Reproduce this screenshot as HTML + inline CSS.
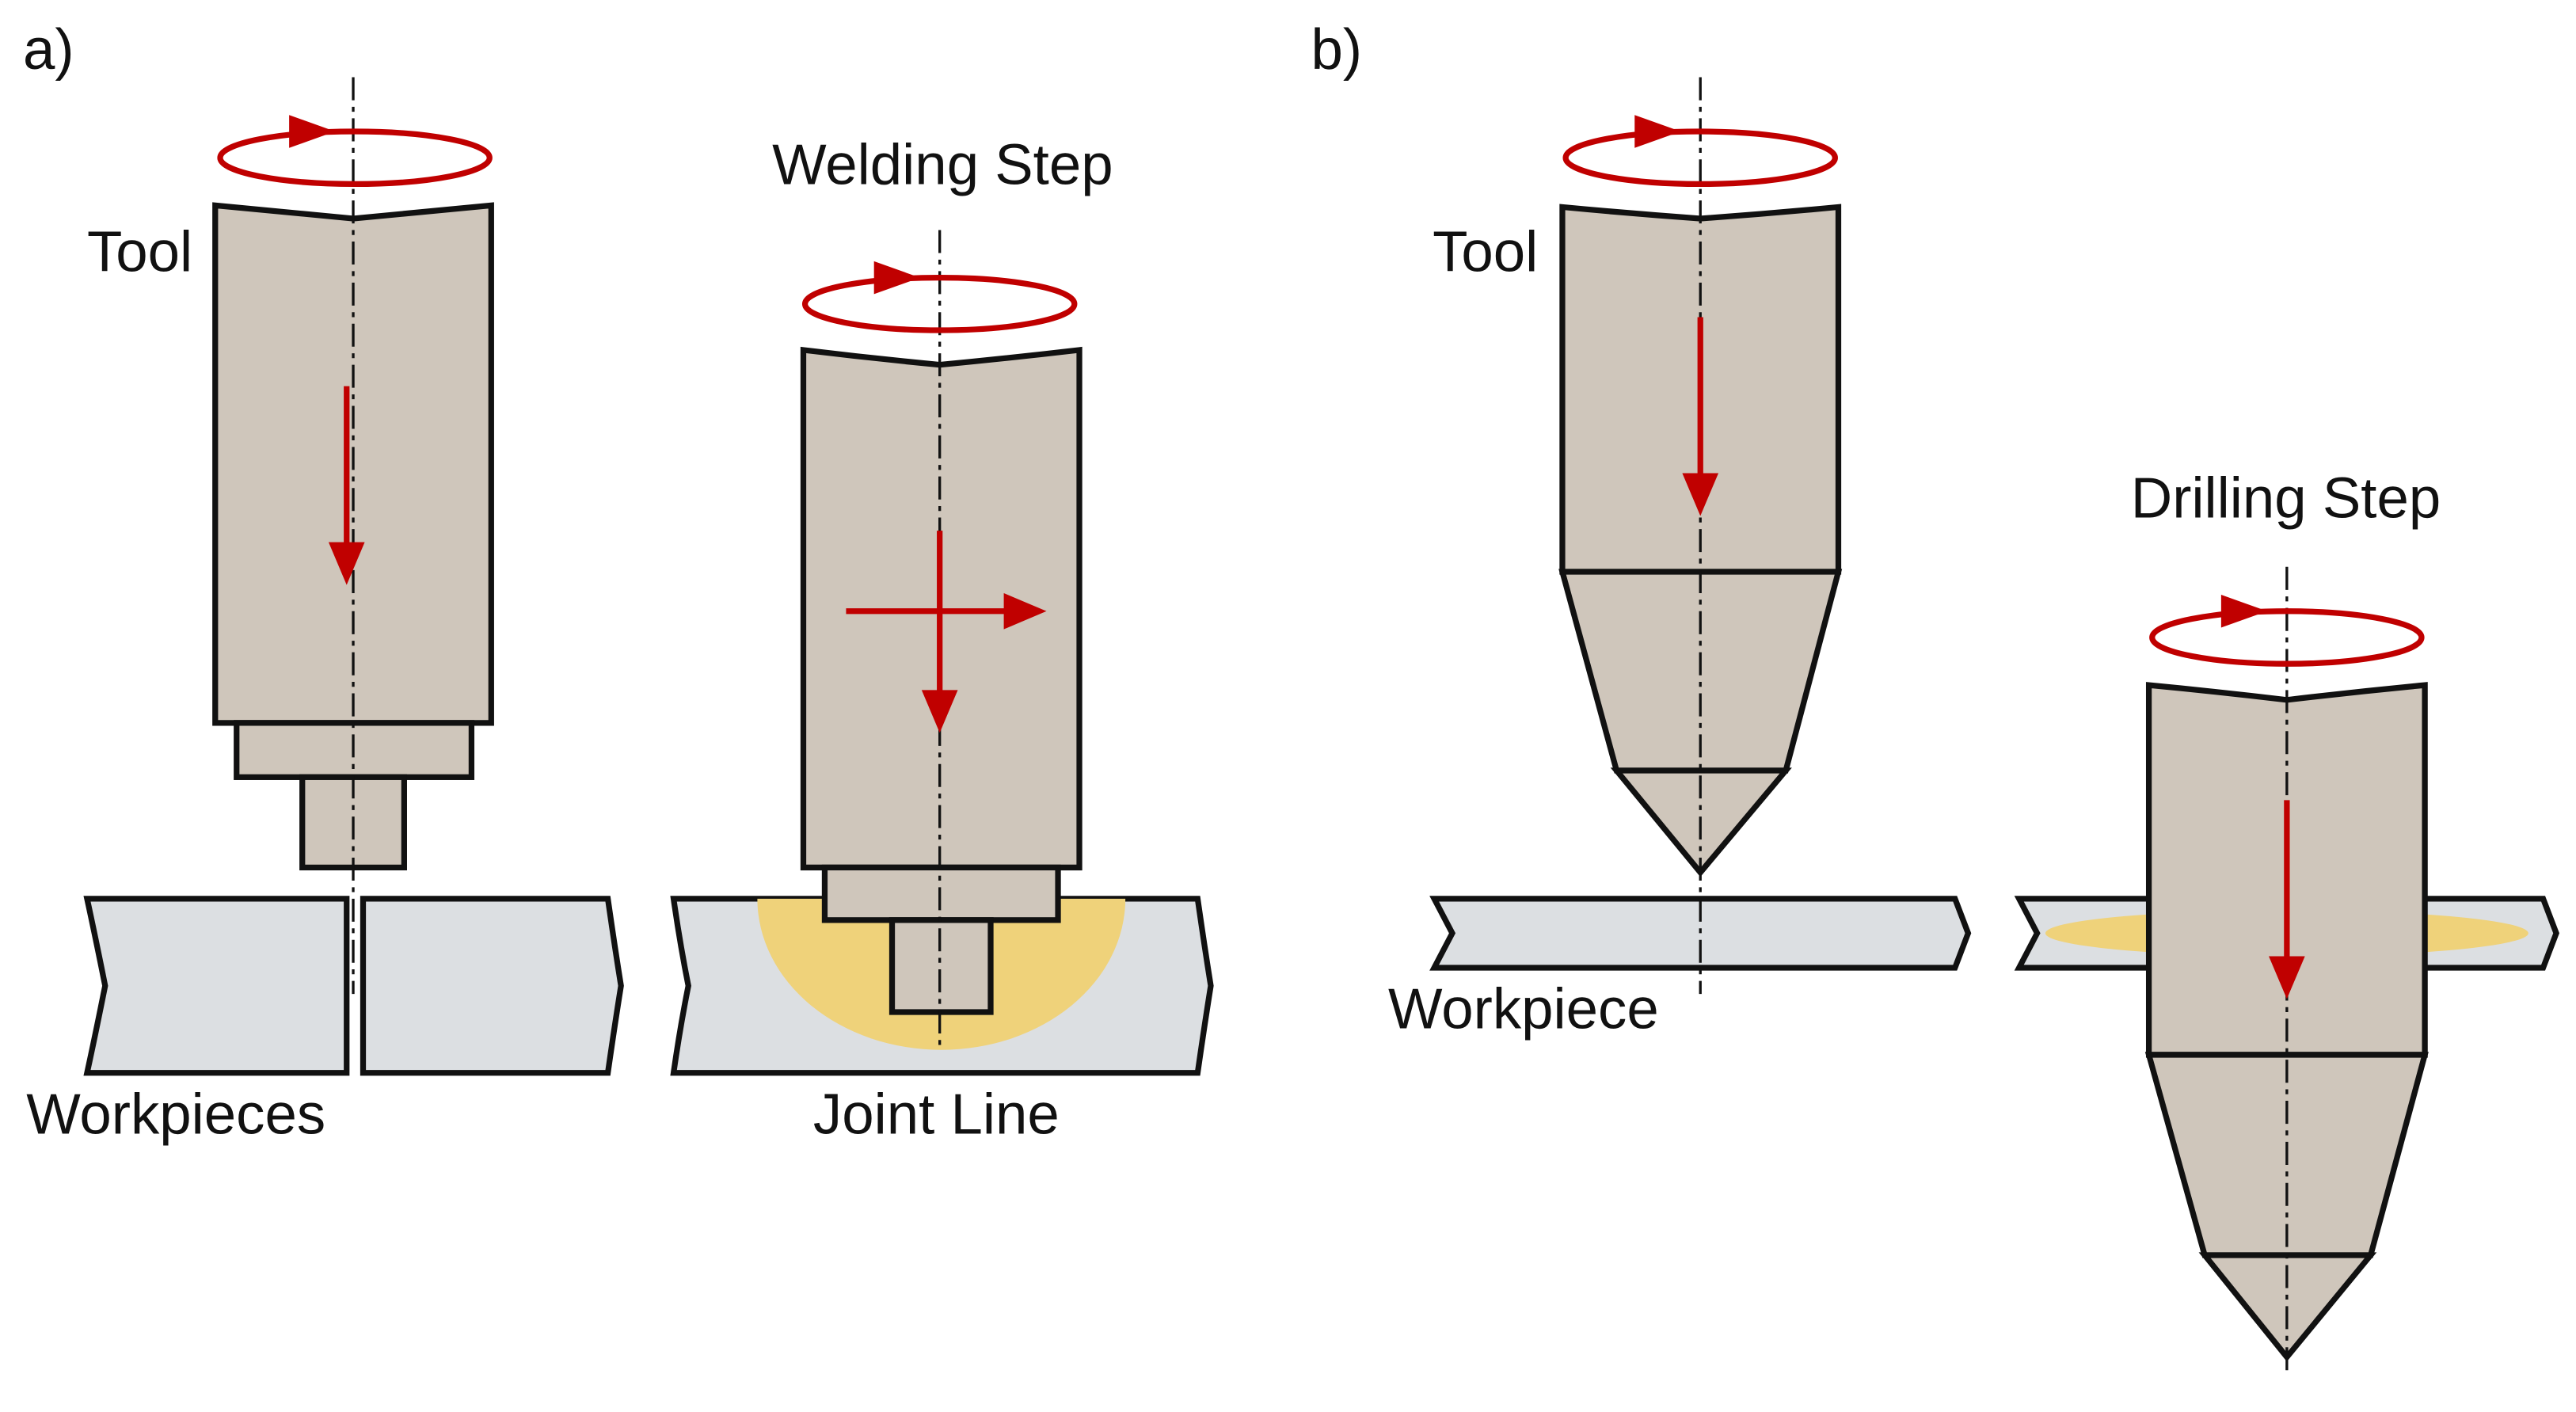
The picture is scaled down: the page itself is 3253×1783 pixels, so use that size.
<!DOCTYPE html>
<html><head><meta charset="utf-8"><style>html,body{margin:0;padding:0;background:#fff}svg{display:block}</style></head>
<body>
<svg width="3253" height="1783" viewBox="0 0 1568 859.4" xmlns="http://www.w3.org/2000/svg" font-family="Liberation Sans, sans-serif" font-size="35">
<defs>
<g id="rot">
<ellipse cx="0" cy="0" rx="82" ry="16" fill="none" stroke="#c00000" stroke-width="3.5"/>
<path d="M-40,-26 L-12,-16 L-40,-6 Z" fill="#c00000"/>
</g>
</defs>
<g stroke="#111" stroke-width="3.5" stroke-linejoin="miter">
<!-- a left -->
<path d="M53,547 L211,547 L211,653 L53,653 Q58,630 64,600 Q58,570 53,547 Z" fill="#dcdfe2"/>
<path d="M221,547 L370,547 Q374,575 378,600 Q374,625 370,653 L221,653 Z" fill="#dcdfe2"/>
<path d="M131,125 Q173,129 215,133 Q257,129 299,125 L299,440 L131,440 Z" fill="#cfc6bb"/>
<rect x="144" y="440" width="143" height="33" fill="#cfc6bb"/>
<rect x="184" y="473" width="62" height="55" fill="#cfc6bb"/>
<!-- a right -->
<path d="M410,547 L729,547 Q733,575 737,600 Q733,625 729,653 L410,653 Q414,625 419,600 Q414,575 410,547 Z" fill="#dcdfe2"/>
<path d="M461,547 A112,92 0 0 0 685,547 Z" fill="#efd27a" stroke="none"/>
<path d="M489,213 Q530,218 572,222 Q614,218 657,213 L657,528 L489,528 Z" fill="#cfc6bb"/>
<rect x="502" y="528" width="142" height="32" fill="#cfc6bb"/>
<rect x="543" y="560" width="60" height="56" fill="#cfc6bb"/>
<!-- b left -->
<path d="M873,547 L1190,547 L1198,568 L1190,589 L873,589 L884,568 Z" fill="#dcdfe2"/>
<path d="M951,126 Q993,130 1035,133 Q1077,130 1119,126 L1119,348 L951,348 Z" fill="#cfc6bb"/>
<path d="M951,348 L1119,348 L1087,469 L984,469 Z" fill="#cfc6bb"/>
<path d="M984,469 L1087,469 L1035,531 Z" fill="#cfc6bb"/>
<!-- b right -->
<path d="M1229,547 L1548,547 L1556,568 L1548,589 L1229,589 L1240,568 Z" fill="#dcdfe2"/>
<ellipse cx="1392" cy="568" rx="147" ry="14" fill="#efd27a" stroke="none"/>
<path d="M1308,417 Q1350,421 1392,426 Q1434,421 1476,417 L1476,642 L1308,642 Z" fill="#cfc6bb"/>
<path d="M1308,642 L1476,642 L1443,764 L1342,764 Z" fill="#cfc6bb"/>
<path d="M1342,764 L1443,764 L1392,826 Z" fill="#cfc6bb"/>
</g>
<!-- axes -->
<g stroke="#111" stroke-width="1.6" stroke-dasharray="14,4,3,4" fill="none">
<line x1="215" y1="47" x2="215" y2="605"/>
<line x1="572" y1="140" x2="572" y2="640"/>
<line x1="1035" y1="47" x2="1035" y2="605"/>
<line x1="1392" y1="345" x2="1392" y2="835"/>
</g>
<use href="#rot" x="216" y="96"/>
<use href="#rot" x="572" y="185"/>
<use href="#rot" x="1035" y="96"/>
<use href="#rot" x="1392" y="388"/>
<g stroke="#c00000" stroke-width="3.5" fill="#c00000">
<line x1="211" y1="235" x2="211" y2="335"/><path d="M200,330 L222,330 L211,356 Z" stroke="none"/>
<line x1="572" y1="323" x2="572" y2="425"/><path d="M561,420 L583,420 L572,446 Z" stroke="none"/>
<line x1="515" y1="372" x2="616" y2="372"/><path d="M611,361 L611,383 L637,372 Z" stroke="none"/>
<line x1="1035" y1="193" x2="1035" y2="293"/><path d="M1024,288 L1046,288 L1035,314 Z" stroke="none"/>
<line x1="1392" y1="487" x2="1392" y2="587"/><path d="M1381,582 L1403,582 L1392,608 Z" stroke="none"/>
</g>
<g fill="#111">
<text x="14" y="42">a)</text>
<text x="798" y="42">b)</text>
<text x="53" y="165">Tool</text>
<text x="470" y="112">Welding Step</text>
<text x="16" y="690">Workpieces</text>
<text x="495" y="690">Joint Line</text>
<text x="872" y="165">Tool</text>
<text x="845" y="626">Workpiece</text>
<text x="1297" y="315">Drilling Step</text>
</g>
</svg>
</body></html>
